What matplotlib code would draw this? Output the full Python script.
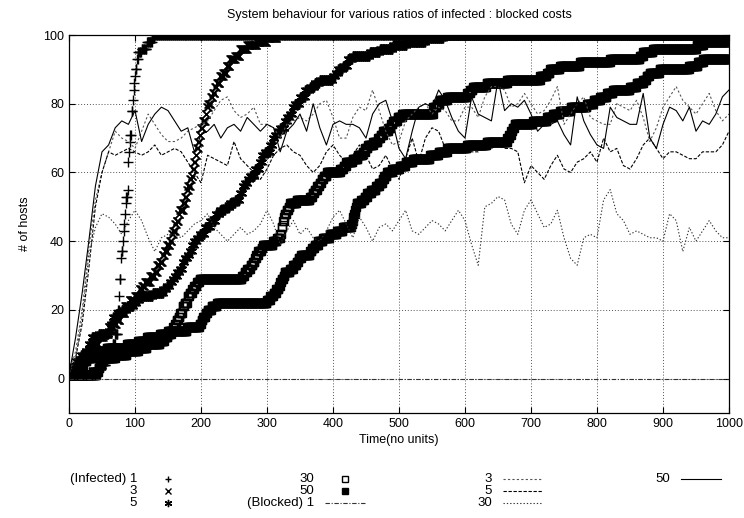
### Import Libraries -------------------------------------------------------

import matplotlib

matplotlib.use("Agg")
import matplotlib.pyplot as plt
from matplotlib.lines import Line2D
import numpy as np

plt.rcParams["font.family"] = ["Liberation Sans", "DejaVu Sans"]
plt.rcParams["font.size"] = 9

### Data --------------------------------------------------------------------

# infected hosts: times at which the count changes, and the new count
inf1_t = [0, 30, 40, 50, 56, 62, 66, 70, 74, 76, 77, 79, 80, 82, 83, 84, 85, 86,
          87, 89, 90, 91, 92, 93, 95, 97, 98, 99, 100, 101, 103, 105, 110, 118,
          126, 130]
inf1_v = [1, 2, 3, 4, 6, 8, 10, 13, 20, 24, 29, 35, 37, 40, 43, 45, 48, 51,
          53, 55, 63, 66, 69, 71, 78, 81, 84, 86, 88, 90, 93, 95, 96, 98,
          99, 100]

inf3_t = [0, 5, 10, 15, 20, 25, 30, 36, 45, 52, 60, 67, 72, 77, 85, 92, 100, 107,
          111, 115, 123, 130, 134, 138, 142, 145, 149, 153, 156, 158, 161, 163,
          166, 168, 173, 176, 179, 181, 184, 186, 188, 190, 192, 194, 196, 198,
          200, 203, 207, 209, 211, 215, 218, 221, 224, 229, 234, 239, 244, 252,
          259, 270, 285, 300, 315]
inf3_v = [1, 2, 3, 4, 6, 7, 8, 10, 12, 13, 15, 16, 17, 19, 21, 23, 24, 26,
          27, 28, 30, 31, 33, 34, 36, 37, 39, 40, 42, 43, 45, 46,
          48, 49, 51, 53, 55, 56, 58, 59, 61, 63, 65, 67, 69, 71,
          73, 75, 77, 79, 80, 82, 83, 85, 86, 88, 89, 91, 93, 94,
          96, 97, 98, 99, 100]

inf5_t = [0, 5, 10, 18, 25, 30, 35, 45, 60, 64, 67, 74, 80, 88, 98, 102, 107,
          127, 143, 148, 153, 157, 160, 164, 168, 172, 175, 180, 183, 187, 190,
          194, 198, 206, 214, 222, 229, 237, 244, 252, 259, 263, 267, 271, 274,
          282, 289, 293, 297, 305, 309, 312, 316, 320, 327, 331, 335, 339, 342,
          350, 358, 365, 372, 380, 400, 404, 408, 415, 422, 430, 456, 471, 491,
          512, 540, 567]
inf5_v = [1, 3, 5, 7, 8, 10, 12, 13, 14, 16, 18, 19, 20, 21, 22, 23, 24,
          25, 26, 27, 28, 29, 30, 31, 32, 34, 35, 36, 37, 39, 40,
          41, 42, 44, 46, 48, 49, 50, 51, 52, 54, 56, 57, 58, 59,
          61, 63, 65, 66, 68, 70, 71, 72, 73, 75, 76, 77, 79, 80,
          82, 84, 85, 86, 87, 88, 89, 90, 91, 93, 94, 95, 96, 97,
          98, 99, 100]

inf30_t = [0, 3, 5, 15, 22, 27, 36, 45, 57, 88, 105, 118, 138, 150, 158, 161,
           163, 166, 168, 172, 175, 180, 183, 187, 190, 194, 198, 262, 266, 270,
           275, 279, 282, 284, 287, 289, 292, 294, 309, 315, 320, 322, 324, 326,
           327, 330, 333, 335, 345, 365, 369, 372, 376, 380, 383, 386, 391, 411,
           416, 420, 430, 438, 445, 449, 453, 461, 468, 472, 476, 484, 488, 491,
           498, 505, 552, 557, 562, 573, 603, 608, 612, 633, 664, 714, 724, 729,
           744, 774, 820, 865, 870, 885, 951, 961]
inf30_v = [1, 2, 3, 4, 5, 6, 7, 8, 9, 10, 11, 12, 13, 14, 15, 16,
           17, 18, 19, 21, 22, 24, 25, 26, 27, 28, 29, 30, 31, 32,
           33, 34, 35, 36, 37, 37, 38, 39, 40, 41, 42, 44, 46, 47,
           48, 49, 50, 51, 52, 53, 54, 55, 56, 57, 58, 59, 60, 61,
           62, 63, 64, 65, 66, 67, 68, 69, 70, 71, 72, 73, 74, 75,
           76, 77, 79, 80, 81, 82, 83, 84, 85, 86, 87, 88, 89, 90,
           91, 92, 93, 94, 95, 96, 97, 98]

inf50_t = [0, 42, 45, 47, 50, 52, 70, 88, 105, 118, 138, 145, 150, 155, 179,
           198, 201, 203, 207, 210, 216, 224, 300, 305, 310, 314, 318, 320, 322,
           325, 327, 335, 340, 345, 348, 352, 365, 368, 372, 378, 385, 395, 406,
           415, 428, 430, 431, 432, 434, 435, 436, 443, 448, 452, 458, 465, 470,
           475, 478, 482, 490, 501, 510, 521, 547, 560, 573, 603, 633, 664, 667,
           670, 672, 675, 703, 724, 734, 744, 760, 785, 795, 805, 815, 824, 850,
           860, 870, 875, 880, 895, 940, 953, 961]
inf50_v = [1, 2, 3, 4, 5, 6, 7, 8, 9, 10, 11, 12, 13, 14, 15,
           16, 17, 18, 19, 20, 21, 22, 23, 24, 25, 26, 27, 28, 29,
           30, 31, 32, 33, 34, 35, 36, 37, 38, 39, 40, 41, 42, 43,
           44, 45, 46, 47, 48, 49, 50, 51, 52, 53, 54, 55, 56, 57,
           58, 59, 60, 61, 62, 63, 64, 65, 66, 67, 68, 69, 70, 71,
           72, 73, 74, 75, 76, 77, 78, 79, 80, 81, 82, 83, 84, 85,
           86, 87, 88, 89, 90, 91, 92, 93]

# blocked hosts, sampled every 10 time units
blk_t = list(range(0, 1001, 10))
blk1 = [0] * len(blk_t)
blk3 = [1, 8, 20, 38, 52, 60, 66, 72, 70, 69,
        67, 72, 77, 74, 71, 69, 69, 70, 72, 73,
        74, 75, 78, 81, 82, 78, 76, 77, 79, 74,
        74, 73, 70, 74, 75, 76, 75, 77, 80, 81,
        76, 70, 70, 76, 79, 78, 84, 78, 72, 68,
        69, 75, 77, 79, 80, 77, 79, 78, 75, 75,
        79, 79, 76, 82, 85, 85, 84, 79, 80, 83,
        80, 77, 78, 81, 85, 74, 77, 80, 82, 76,
        75, 74, 74, 80, 79, 78, 81, 76, 69, 73,
        79, 82, 85, 81, 79, 77, 80, 83, 78, 75, 77]
blk5 = [1, 6, 16, 32, 50, 60, 66, 65, 66, 67,
        66, 65, 66, 68, 65, 66, 67, 66, 63, 60,
        57, 65, 64, 63, 62, 69, 64, 62, 60, 58,
        61, 65, 67, 68, 66, 65, 62, 60, 62, 66,
        68, 65, 63, 65, 68, 65, 61, 62, 65, 61,
        58, 64, 70, 63, 70, 73, 72, 67, 66, 66,
        67, 66, 66, 68, 67, 68, 67, 67, 66, 57,
        62, 60, 58, 62, 65, 61, 60, 63, 64, 66,
        63, 70, 66, 67, 62, 61, 64, 68, 70, 67,
        64, 66, 66, 65, 64, 64, 66, 66, 66, 68, 72]
blk30 = [1, 6, 18, 36, 44, 48, 47, 45, 42, 46,
         49, 46, 41, 37, 41, 42, 42, 41, 43, 45,
         46, 48, 44, 42, 40, 42, 44, 42, 43, 45,
         49, 45, 39, 43, 46, 42, 44, 41, 40, 43,
         47, 49, 45, 41, 47, 44, 40, 44, 45, 43,
         46, 49, 43, 42, 44, 46, 45, 43, 46, 49,
         46, 39, 33, 50, 51, 53, 52, 45, 42, 49,
         52, 48, 44, 45, 49, 41, 35, 33, 41, 42,
         41, 52, 55, 48, 46, 42, 43, 42, 41, 41,
         40, 48, 46, 37, 44, 40, 43, 46, 43, 41, 41]
blk50 = [1, 12, 25, 40, 56, 66, 68, 73, 75, 74,
         78, 69, 74, 77, 79, 78, 75, 72, 73, 66,
         71, 72, 74, 70, 73, 74, 72, 76, 74, 72,
         74, 73, 66, 72, 74, 77, 72, 80, 73, 68,
         74, 75, 74, 74, 73, 70, 77, 80, 81, 75,
         67, 64, 72, 79, 80, 79, 84, 81, 76, 72,
         70, 82, 77, 76, 75, 87, 78, 80, 79, 81,
         77, 72, 74, 74, 75, 71, 68, 82, 75, 71,
         68, 67, 79, 76, 75, 74, 74, 83, 70, 67,
         74, 79, 78, 75, 79, 72, 75, 74, 77, 82, 84]

x_ticks = list(range(0, 1001, 100))
y_ticks = [0, 20, 40, 60, 80, 100]

### Build figure -------------------------------------------------------------

fig = plt.figure(figsize=(7.44, 5.18), dpi=100)
ax = fig.add_axes([69 / 744, 1 - 413 / 518, 660 / 744, 378 / 518])

time_units = np.arange(0, 1001)


def held(bt, bv):
    # infected count holds its value until the next change
    idx = np.searchsorted(bt, time_units, side="right") - 1
    return np.array(bv)[idx]


point_styles = [
    ("(Infected) 1", inf1_t, inf1_v, dict(marker="+", ms=6.5, mew=1.0)),
    ("3", inf3_t, inf3_v, dict(marker="x", ms=5.5, mew=1.0)),
    ("5", inf5_t, inf5_v, dict(marker=(6, 2, 0), ms=7, mew=1.0)),
    ("30", inf30_t, inf30_v, dict(marker="s", ms=6.3, mew=1.0, mfc="none")),
    ("50", inf50_t, inf50_v, dict(marker="s", ms=6.3, mew=1.0)),
]

line_styles = [
    ("(Blocked) 1", blk1, dict(color="#333333", ls=(0, (4, 1.5, 1, 1.5)), lw=0.8)),
    ("3", blk3, dict(color="#555555", ls=(0, (2, 2)), lw=0.8)),
    ("5", blk5, dict(color="black", ls=(0, (3, 1.5)), lw=0.8)),
    ("30", blk30, dict(color="#333333", ls=(0, (1.2, 1.8)), lw=0.8)),
    ("50", blk50, dict(color="black", ls="-", lw=0.8)),
]

for label, bt, bv, st in point_styles:
    ax.plot(time_units, held(bt, bv), ls="none", color="black", **st)

for label, vals, st in line_styles:
    ax.plot(blk_t, vals, **st)

ax.set_xlim(0, 1000)
ax.set_ylim(-10, 100)
ax.set_xticks(x_ticks)
ax.set_yticks(y_ticks)
ax.tick_params(direction="in", top=True, right=True, length=4, width=0.8, labelsize=9)
ax.grid(True, color="#555555", ls=(0, (1, 2)), lw=0.7)
for sp in ax.spines.values():
    sp.set_linewidth(0.9)

ax.set_title("System behaviour for various ratios of infected : blocked costs",
             fontsize=9, pad=12)
ax.set_xlabel("Time(no units)", fontsize=9, labelpad=3)
ax.set_ylabel("# of hosts", fontsize=9, labelpad=9)

### Key below the plot (gnuplot style, 4 columns) ---------------------------

entries = [(lab, "pt", st) for lab, bt, bv, st in point_styles] + \
          [(lab, "ln", st) for lab, vals, st in line_styles]
col_start = [148, 325, 503, 681]
row_y = [479, 491, 503]
for i, (lab, kind, st) in enumerate(entries):
    col, row = divmod(i, 3)
    x0 = col_start[col]
    yy = 1 - row_y[row] / 518
    fig.text((x0 - 11) / 744, yy, lab, ha="right", va="center", fontsize=9.5)
    if kind == "pt":
        key_st = dict(st, ms=st["ms"] * 0.75)
        fig.add_artist(Line2D([(x0 + 20) / 744], [yy], ls="none", color="black",
                              transform=fig.transFigure, **key_st))
    else:
        fig.add_artist(Line2D([x0 / 744, (x0 + 40) / 744], [yy, yy],
                              transform=fig.transFigure, **st))

fig.savefig("out.png", dpi=100)
